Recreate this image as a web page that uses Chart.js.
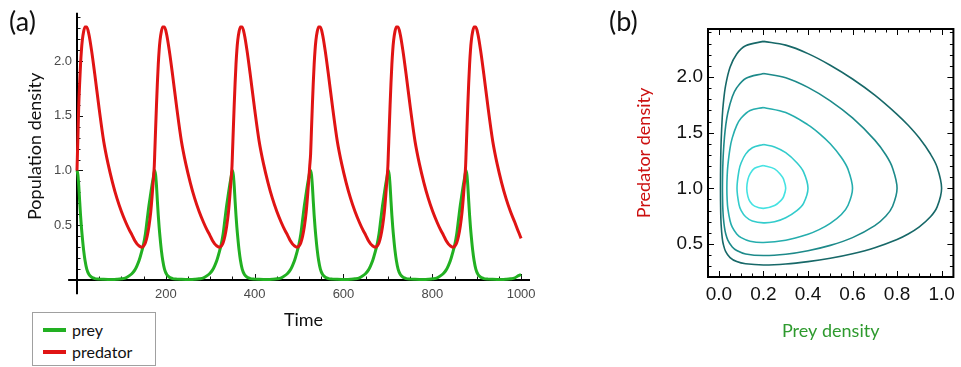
<!DOCTYPE html>
<html><head><meta charset="utf-8">
<script src="https://cdn.jsdelivr.net/npm/chart.js@4.4.1/dist/chart.umd.min.js"></script>
<style>
html,body{margin:0;padding:0;background:#fff;width:961px;height:367px;overflow:hidden;position:relative;font-family:Lato,sans-serif;}
#ca{position:absolute;left:0;top:0;}
#cb{position:absolute;left:600px;top:0;}
.panel{position:absolute;font-size:27px;color:#111;line-height:1;}
#legend{position:absolute;left:32px;top:312px;width:122px;height:52px;border:1px solid #a0a0a0;background:#fff;}
.item{position:absolute;left:0;width:120px;height:20px;font-size:16px;line-height:20px;color:#111;}
.item i{position:absolute;left:10px;top:8px;width:23px;height:4px;}
.item span{position:absolute;left:39px;top:0;}
</style></head><body>
<canvas id="ca" width="560" height="367"></canvas>
<canvas id="cb" width="361" height="367"></canvas>
<div class="panel" style="left:9px;top:7px">(a)</div>
<div class="panel" style="left:609px;top:7px">(b)</div>
<div id="legend"></div>
<script>
// ---------- Panel (a): time series ----------
const seriesNames = ['prey', 'predator'];
const seriesColors = ['#22b022', '#e01414'];

const time = [
  0,2,4,6,8,10,12,15,18,22,27,33,40,50,60,70,80,90,100,110,118,124,130,135,140,145,150,154,158,162,166,169,172,174,
  175,177,179,181,183,185,187,190,193,197,202,208,215,225,235,245,255,265,275,285,293,299,305,310,315,320,325,329,333,337,341,344,347,349,
  350,352,354,356,358,360,362,365,368,372,377,383,390,400,410,420,430,440,450,460,468,474,480,485,490,495,500,504,508,512,516,519,522,524,
  526,528,530,532,534,536,538,541,544,548,553,559,566,576,586,596,606,616,626,636,644,650,656,661,666,671,676,680,684,688,692,695,698,700,
  701,703,705,707,709,711,713,716,719,723,728,734,741,751,761,771,781,791,801,811,819,825,831,836,841,846,851,855,859,863,867,870,873,875,
  876,878,880,882,884,886,888,891,894,898,903,909,916,926,936,946,956,966,976,986,994,1000
];

const prey = [
  1.00,0.96,0.86,0.72,0.59,0.48,0.39,0.27,0.18,0.10,0.05,0.025,0.013,0.008,0.006,0.005,0.005,0.007,0.011,0.02,0.04,0.06,0.09,0.13,0.18,0.25,0.33,0.42,0.55,0.68,0.79,0.87,0.94,0.985,
  1.00,0.96,0.86,0.72,0.59,0.48,0.39,0.27,0.18,0.10,0.05,0.025,0.013,0.008,0.006,0.005,0.005,0.007,0.011,0.02,0.04,0.06,0.09,0.13,0.18,0.25,0.33,0.42,0.55,0.68,0.79,0.87,0.94,0.985,
  1.00,0.96,0.86,0.72,0.59,0.48,0.39,0.27,0.18,0.10,0.05,0.025,0.013,0.008,0.006,0.005,0.005,0.007,0.011,0.02,0.04,0.06,0.09,0.13,0.18,0.25,0.33,0.42,0.55,0.68,0.79,0.87,0.94,0.985,
  1.00,0.96,0.86,0.72,0.59,0.48,0.39,0.27,0.18,0.10,0.05,0.025,0.013,0.008,0.006,0.005,0.005,0.007,0.011,0.02,0.04,0.06,0.09,0.13,0.18,0.25,0.33,0.42,0.55,0.68,0.79,0.87,0.94,0.985,
  1.00,0.96,0.86,0.72,0.59,0.48,0.39,0.27,0.18,0.10,0.05,0.025,0.013,0.008,0.006,0.005,0.005,0.007,0.011,0.02,0.04,0.06,0.09,0.13,0.18,0.25,0.33,0.42,0.55,0.68,0.79,0.87,0.94,0.985,
  1.00,0.96,0.86,0.72,0.59,0.48,0.39,0.27,0.18,0.10,0.05,0.025,0.013,0.008,0.006,0.005,0.005,0.007,0.011,0.02,0.04,0.05
];

const predator = [
  1.00,1.30,1.60,1.80,1.97,2.10,2.19,2.27,2.31,2.31,2.24,2.09,1.88,1.56,1.27,1.06,0.89,0.745,0.625,0.525,0.455,0.41,0.36,0.33,0.31,0.30,0.31,0.34,0.40,0.49,0.62,0.76,0.92,1.04,
  1.15,1.38,1.60,1.80,1.97,2.10,2.19,2.27,2.31,2.31,2.24,2.09,1.88,1.56,1.27,1.06,0.89,0.745,0.625,0.525,0.455,0.41,0.36,0.33,0.31,0.30,0.31,0.34,0.40,0.49,0.62,0.76,0.92,1.04,
  1.15,1.38,1.60,1.80,1.97,2.10,2.19,2.27,2.31,2.31,2.24,2.09,1.88,1.56,1.27,1.06,0.89,0.745,0.625,0.525,0.455,0.41,0.36,0.33,0.31,0.30,0.31,0.34,0.40,0.49,0.62,0.76,0.92,1.04,
  1.15,1.38,1.60,1.80,1.97,2.10,2.19,2.27,2.31,2.31,2.24,2.09,1.88,1.56,1.27,1.06,0.89,0.745,0.625,0.525,0.455,0.41,0.36,0.33,0.31,0.30,0.31,0.34,0.40,0.49,0.62,0.76,0.92,1.04,
  1.15,1.38,1.60,1.80,1.97,2.10,2.19,2.27,2.31,2.31,2.24,2.09,1.88,1.56,1.27,1.06,0.89,0.745,0.625,0.525,0.455,0.41,0.36,0.33,0.31,0.30,0.31,0.34,0.40,0.49,0.62,0.76,0.92,1.04,
  1.15,1.38,1.60,1.80,1.97,2.10,2.19,2.27,2.31,2.31,2.24,2.09,1.88,1.56,1.27,1.06,0.89,0.745,0.625,0.525,0.44,0.38
];

const timeTicks = [200, 400, 600, 800, 1000];
const densityTicks = [0.5, 1.0, 1.5, 2.0];

// ---------- Panel (b): phase portrait (prey density, predator density) ----------
const orbitPrey1 = [0.2,0.16,0.14,0.13,0.125,0.13,0.14,0.16,0.2,0.25,0.28,0.29,0.3,0.29,0.28,0.25,0.2];
const orbitPred1 = [1.205,1.18,1.13,1.078,1.0,0.928,0.88,0.84,0.82,0.845,0.894,0.923,1.0,1.083,1.115,1.175,1.205];

const orbitPrey2 = [0.2,0.15,0.12,0.1,0.09,0.0812,0.09,0.1,0.12,0.15,0.2,0.25,0.3,0.35,0.38,0.4,0.38,0.35,0.3,0.25,0.2];
const orbitPred2 = [1.394,1.365,1.307,1.23,1.16,1.0,0.855,0.80,0.745,0.707,0.69,0.70,0.736,0.80,0.865,1.0,1.148,1.23,1.32,1.372,1.394];

const orbitPrey3 = [0.2,0.14,0.1,0.08,0.06,0.05,0.04,0.037,0.0357,0.037,0.04,0.05,0.06,0.08,0.1,0.14,0.2,0.3,0.4,0.45,0.5,0.55,0.58,0.6,0.58,0.55,0.5,0.45,0.4,0.3,0.2];
const orbitPred3 = [1.726,1.699,1.631,1.565,1.453,1.362,1.202,1.11,1.0,0.898,0.82,0.709,0.652,0.5905,0.5575,0.525,0.513,0.534,0.588,0.629,0.685,0.765,0.848,1.0,1.17,1.277,1.40,1.494,1.57,1.68,1.726];

const orbitPrey4 = [0.2,0.12,0.08,0.06,0.04,0.03,0.025,0.02,0.018,0.017,0.0159,0.017,0.018,0.02,0.025,0.03,0.04,0.06,0.08,0.12,0.2,0.3,0.4,0.5,0.6,0.7,0.75,0.78,0.8,0.78,0.75,0.7,0.6,0.5,0.4,0.3,0.2];
const orbitPred4 = [2.032,1.987,1.903,1.822,1.679,1.555,1.46,1.32,1.23,1.169,1.0,0.85,0.80,0.736,0.649,0.596,0.535,0.4725,0.4415,0.4105,0.396,0.408,0.4397,0.4875,0.557,0.665,0.751,0.839,1.0,1.181,1.299,1.433,1.632,1.786,1.907,1.994,2.032];

const orbitPrey5 = [0.2,0.12,0.08,0.05,0.03,0.02,0.015,0.01,0.008,0.007,0.008,0.01,0.015,0.02,0.03,0.05,0.08,0.12,0.2,0.3,0.4,0.5,0.6,0.7,0.8,0.85,0.9,0.95,0.98,1.0,0.98,0.95,0.9,0.85,0.8,0.7,0.6,0.5,0.4,0.3,0.2];
const orbitPred5 = [2.32,2.28,2.206,2.087,1.922,1.767,1.64,1.42,1.248,1.0,0.788,0.673,0.553,0.495,0.434,0.378,0.342,0.322,0.3115,0.32,0.3415,0.372,0.413,0.467,0.541,0.59,0.654,0.744,0.833,1.0,1.19,1.308,1.451,1.566,1.665,1.837,1.982,2.106,2.21,2.286,2.32];

const orbitColors = ['#45e2e2', '#33cccc', '#25adad', '#1d8a8a', '#176868'];
const preyTicksB = [0, 0.2, 0.4, 0.6, 0.8, 1.0];
const predTicksB = [0.5, 1.0, 1.5, 2.0];

// ---------- legend (HTML) ----------
const leg = document.getElementById('legend');
seriesNames.forEach((n, i) => {
  const d = document.createElement('div');
  d.className = 'item';
  d.style.top = (7 + i * 22) + 'px';
  d.innerHTML = '<i style="background:' + seriesColors[i] + '"></i><span>' + n + '</span>';
  leg.appendChild(d);
});

Chart.defaults.devicePixelRatio = 1;
Chart.defaults.animation = false;

const tickFontA = {family: '"Liberation Sans", Arial, sans-serif', size: 13};
const titleFont = {family: 'Lato, sans-serif', size: 18};

const axisCrossPlugin = {
  id: 'axisCross',
  beforeDatasetsDraw(chart) {
    const {ctx, scales: {x, y}} = chart;
    const x0 = x.getPixelForValue(0), y0 = y.getPixelForValue(0);
    ctx.save();
    ctx.strokeStyle = '#111';
    ctx.lineWidth = 1;
    for (let v = 50; v <= 1000; v += 50) {
      const px = Math.round(x.getPixelForValue(v)) + 0.5;
      const len = (v % 200 === 0) ? 6 : 3.5;
      ctx.beginPath(); ctx.moveTo(px, y0); ctx.lineTo(px, y0 - len); ctx.stroke();
    }
    for (let k = 1; k <= 24; k++) {
      const v = k / 10;
      const py = Math.round(y.getPixelForValue(v)) + 0.5;
      const len = (k % 5 === 0) ? 6 : 3.5;
      ctx.beginPath(); ctx.moveTo(x0, py); ctx.lineTo(x0 + len, py); ctx.stroke();
    }
    ctx.lineWidth = 2;
    ctx.strokeStyle = '#000';
    ctx.beginPath(); ctx.moveTo(x.getPixelForValue(-20), y0); ctx.lineTo(x.getPixelForValue(1020), y0); ctx.stroke();
    ctx.beginPath(); ctx.moveTo(x0, y.getPixelForValue(-0.13)); ctx.lineTo(x0, y.getPixelForValue(2.44)); ctx.stroke();
    ctx.restore();
  }
};

new Chart(document.getElementById('ca'), {
  type: 'scatter',
  data: {
    datasets: [
      {label: seriesNames[0], data: time.map((t, i) => ({x: t, y: prey[i]})), borderColor: seriesColors[0], borderWidth: 3, showLine: true, pointRadius: 0, cubicInterpolationMode: 'monotone', clip: false, order: 1},
      {label: seriesNames[1], data: time.map((t, i) => ({x: t, y: predator[i]})), borderColor: seriesColors[1], borderWidth: 3, showLine: true, pointRadius: 0, cubicInterpolationMode: 'monotone', clip: false, order: 0}
    ]
  },
  options: {
    responsive: false,
    layout: {padding: {left: 0, right: 30, top: 10, bottom: 0}},
    plugins: {legend: {display: false}, tooltip: {enabled: false}},
    scales: {
      x: {
        type: 'linear', min: 0, max: 1020,
        grid: {display: false, drawTicks: false}, border: {display: false},
        afterBuildTicks: s => { s.ticks = timeTicks.map(v => ({value: v})); },
        afterFit: s => { s.height = 87; },
        ticks: {font: tickFontA, color: '#4a4a4a', padding: 7, maxRotation: 0, callback: v => String(v)},
        title: {display: true, text: 'Time', font: titleFont, color: '#111', padding: {top: 0, bottom: 36}}
      },
      y: {
        type: 'linear', min: 0, max: 2.44,
        grid: {display: false, drawTicks: false}, border: {display: false},
        afterBuildTicks: s => { s.ticks = densityTicks.map(v => ({value: v})); },
        afterFit: s => { s.width = 77; },
        ticks: {font: tickFontA, color: '#4a4a4a', padding: 5, callback: v => Number(v).toFixed(1)},
        title: {display: true, text: 'Population density', font: titleFont, color: '#111', padding: {top: 24, bottom: 0}}
      }
    }
  },
  plugins: [axisCrossPlugin]
});

const framePlugin = {
  id: 'frameB',
  afterDatasetsDraw(chart) {
    const {ctx, chartArea: a, scales: {x, y}} = chart;
    ctx.save();
    ctx.strokeStyle = '#000';
    ctx.lineWidth = 1;
    for (let k = -1; k <= 21; k++) {
      const v = k * 0.05;
      const px = Math.round(x.getPixelForValue(v)) + 0.5;
      if (px < a.left + 1 || px > a.right - 1) continue;
      const len = (k % 4 === 0) ? 6 : 3.5;
      ctx.beginPath(); ctx.moveTo(px, a.bottom); ctx.lineTo(px, a.bottom - len); ctx.stroke();
      ctx.beginPath(); ctx.moveTo(px, a.top); ctx.lineTo(px, a.top + len); ctx.stroke();
    }
    for (let k = 3; k <= 24; k++) {
      const v = k / 10;
      const py = Math.round(y.getPixelForValue(v)) + 0.5;
      if (py < a.top + 1 || py > a.bottom - 1) continue;
      const len = (k % 5 === 0) ? 6 : 3.5;
      ctx.beginPath(); ctx.moveTo(a.left, py); ctx.lineTo(a.left + len, py); ctx.stroke();
      ctx.beginPath(); ctx.moveTo(a.right, py); ctx.lineTo(a.right - len, py); ctx.stroke();
    }
    ctx.lineWidth = 2;
    ctx.strokeRect(a.left, a.top, a.right - a.left, a.bottom - a.top);
    ctx.restore();
  }
};

const orbits = [
  [orbitPrey1, orbitPred1], [orbitPrey2, orbitPred2], [orbitPrey3, orbitPred3],
  [orbitPrey4, orbitPred4], [orbitPrey5, orbitPred5]
];
const tickFontB = {family: '"Liberation Sans", Arial, sans-serif', size: 19};

new Chart(document.getElementById('cb'), {
  type: 'scatter',
  data: {
    datasets: orbits.map((o, i) => ({
      data: o[0].map((px, j) => ({x: px, y: o[1][j]})),
      borderColor: orbitColors[i], borderWidth: 1.6, showLine: true, pointRadius: 0, tension: 0.35, fill: false
    }))
  },
  options: {
    responsive: false,
    layout: {padding: {left: 0, right: 4, top: 29, bottom: 0}},
    plugins: {legend: {display: false}, tooltip: {enabled: false}},
    scales: {
      x: {
        type: 'linear', min: -0.049, max: 1.053,
        grid: {display: false, drawTicks: false}, border: {display: false},
        afterBuildTicks: s => { s.ticks = preyTicksB.map(v => ({value: v})); },
        afterFit: s => { s.height = 90; },
        ticks: {font: tickFontB, color: '#111', padding: 6, maxRotation: 0, callback: v => Number(v).toFixed(1)},
        title: {display: true, text: 'Prey density', font: titleFont, color: '#2e9a2e', padding: {top: 0, bottom: 25}}
      },
      y: {
        type: 'linear', min: 0.2035, max: 2.431,
        grid: {display: false, drawTicks: false}, border: {display: false},
        afterBuildTicks: s => { s.ticks = predTicksB.map(v => ({value: v})); },
        afterFit: s => { s.width = 108; },
        ticks: {font: tickFontB, color: '#111', padding: 5, callback: v => Number(v).toFixed(1)},
        title: {display: true, text: 'Predator density', font: titleFont, color: '#cc1111', padding: {top: 33, bottom: 0}}
      }
    }
  },
  plugins: [framePlugin]
});
</script>
</body></html>
